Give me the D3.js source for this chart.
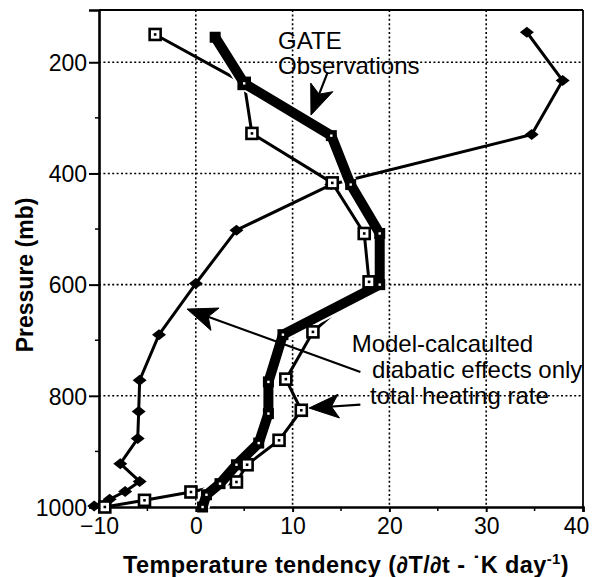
<!DOCTYPE html>
<html>
<head>
<meta charset="utf-8">
<script src="https://cdn.jsdelivr.net/npm/d3@7"></script>
<style>
  body { margin: 0; background: #fff; }
  text { font-family: "Liberation Sans", Arial, Helvetica, sans-serif; fill: #000; }
</style>
</head>
<body>
<div id="chart"></div>
<script>
// values: pressure (mb) and temperature tendency (K/day)
var gatePressure = [155, 238, 332, 420, 508, 600, 690, 775, 832, 885, 924, 958, 978, 1000];
var gateTendency = [2.0, 5.0, 14.0, 16.0, 19.0, 19.0, 9.0, 7.5, 7.5, 6.5, 4.2, 2.5, 1.1, 0.7];

var totalPressure = [150, 238, 328, 417, 508, 595, 685, 770, 826, 880, 924, 955, 973, 988, 1000];
var totalTendency = [-4.2, 5.0, 5.8, 14.1, 17.4, 17.9, 12.1, 9.3, 10.9, 8.6, 5.3, 4.2, -0.5, -5.3, -9.4];

var diabPressure = [146, 233, 330, 420, 502, 598, 690, 772, 828, 877, 922, 954, 972, 986, 998];
var diabTendency = [34.2, 37.9, 34.7, 14.0, 4.2, 0.0, -3.8, -5.8, -5.9, -6.0, -7.8, -5.8, -7.3, -8.9, -10.5];

var xTicks = [-10, 0, 10, 20, 30, 40];
var xMinor = [-5, 5, 15, 25, 35];
var yTicks = [200, 400, 600, 800, 1000];
var yMinor = [300, 500, 700, 900];

// annotation texts, placed in data units
var noteText = ["GATE", "Observations", "Model-calcaulted", "diabatic effects only", "total heating rate"];
var noteT = [8.5, 8.5, 16.1, 18.2, 18.0];
var noteP = [176, 221, 721, 768, 815];

// annotation arrows: tail -> tip, in data units
var arrowTail = [[13.6, 219], [17.0, 757], [17.0, 816]];
var arrowTip = [[11.9, 295], [-0.9, 644], [11.7, 822]];

var width = 594, height = 577;
var svg = d3.select("#chart").append("svg")
    .attr("width", width)
    .attr("height", height);

var x = d3.scaleLinear().domain([-10, 40]).range([99, 583]);
var y = d3.scaleLinear().domain([106, 1000]).range([10, 507]);

// dotted grid
svg.append("g").selectAll("line")
    .data(xTicks.slice(1, -1))
  .enter().append("line")
    .attr("x1", function(d) { return x(d); })
    .attr("x2", function(d) { return x(d); })
    .attr("y1", y(106)).attr("y2", y(1000))
    .attr("stroke", "#000").attr("stroke-width", 1.6)
    .attr("stroke-dasharray", "2,2.4");
svg.append("g").selectAll("line")
    .data(yTicks.slice(0, -1))
  .enter().append("line")
    .attr("y1", function(d) { return y(d); })
    .attr("y2", function(d) { return y(d); })
    .attr("x1", x(-10)).attr("x2", x(40))
    .attr("stroke", "#000").attr("stroke-width", 1.6)
    .attr("stroke-dasharray", "2,2.4");

// frame
svg.append("line").attr("x1", x(-10)).attr("x2", x(40)).attr("y1", y(106)).attr("y2", y(106))
    .attr("stroke", "#000").attr("stroke-width", 2);
svg.append("line").attr("x1", x(40)).attr("x2", x(40)).attr("y1", y(106)).attr("y2", y(1000))
    .attr("stroke", "#000").attr("stroke-width", 1.8);

// axes
var yAxis = svg.append("g")
    .attr("transform", "translate(" + x(-10) + ",0)")
    .call(d3.axisLeft(y).tickValues(yTicks).tickSize(10).tickPadding(2).tickFormat(d3.format("d")));
yAxis.select(".domain").attr("stroke-width", 2.6);
yAxis.selectAll(".tick line").attr("stroke-width", 2);
yAxis.selectAll(".tick text").style("font-size", "23px").attr("dy", "0.36em");
yAxis.append("g").selectAll("line")
    .data(yMinor)
  .enter().append("line")
    .attr("x1", -4).attr("x2", 0)
    .attr("y1", function(d) { return y(d); })
    .attr("y2", function(d) { return y(d); })
    .attr("stroke", "#000").attr("stroke-width", 1.5);

var xAxis = svg.append("g")
    .attr("transform", "translate(0," + y(1000) + ")")
    .call(d3.axisBottom(x).tickValues(xTicks).tickSize(5).tickPadding(6).tickFormat(d3.format("d")));
xAxis.select(".domain").attr("stroke-width", 2.6);
xAxis.selectAll(".tick line").attr("stroke-width", 2);
xAxis.selectAll(".tick text").style("font-size", "23px")
    .attr("dx", function(d) { return d === 40 ? -7 : 0; });
xAxis.append("g").selectAll("line")
    .data(xMinor)
  .enter().append("line")
    .attr("x1", function(d) { return x(d); })
    .attr("x2", function(d) { return x(d); })
    .attr("y1", 0).attr("y2", 4)
    .attr("stroke", "#000").attr("stroke-width", 1.5);

// axis titles
svg.append("text")
    .attr("transform", "translate(33,275) rotate(-90)")
    .attr("text-anchor", "middle")
    .style("font-size", "23px").style("font-weight", "bold")
    .text("Pressure (mb)");

var xTitle = svg.append("text")
    .attr("x", 346).attr("y", 573)
    .attr("text-anchor", "middle")
    .style("font-size", "23.5px").style("font-weight", "bold")
    .style("letter-spacing", "0.4px");
xTitle.append("tspan").text("Temperature tendency (\u2202T/\u2202t - \u02D9K day");
xTitle.append("tspan").attr("dy", -9).style("font-size", "15px").text("-1");
xTitle.append("tspan").attr("dy", 9).text(")");

var line = d3.line()
    .x(function(d) { return x(d[0]); })
    .y(function(d) { return y(d[1]); });

var diab = diabTendency.map(function(d, i) { return [d, diabPressure[i]]; });
var total = totalTendency.map(function(d, i) { return [d, totalPressure[i]]; });
var gate = gateTendency.map(function(d, i) { return [d, gatePressure[i]]; });

// model diabatic effects only: diamonds
svg.append("path")
    .datum(diab)
    .attr("fill", "none")
    .attr("stroke", "#000")
    .attr("stroke-width", 3)
    .attr("stroke-linejoin", "round")
    .attr("d", line);
svg.append("g").selectAll("path")
    .data(diab)
  .enter().append("path")
    .attr("transform", function(d) { return "translate(" + x(d[0]) + "," + y(d[1]) + ")"; })
    .attr("d", "M-7,0L0,-5.5L7,0L0,5.5Z")
    .attr("fill", "#000");

// total heating rate: open squares
svg.append("path")
    .datum(total)
    .attr("fill", "none")
    .attr("stroke", "#000")
    .attr("stroke-width", 3)
    .attr("stroke-linejoin", "round")
    .attr("d", line);

// GATE observations: heavy line
svg.append("path")
    .datum(gate)
    .attr("fill", "none")
    .attr("stroke", "#fff")
    .attr("stroke-width", 14)
    .attr("stroke-linejoin", "round")
    .attr("d", line);
svg.append("path")
    .datum(gate)
    .attr("fill", "none")
    .attr("stroke", "#000")
    .attr("stroke-width", 10)
    .attr("stroke-linejoin", "round")
    .attr("d", line);

var sq = svg.append("g").selectAll("g")
    .data(total)
  .enter().append("g")
    .attr("transform", function(d) { return "translate(" + x(d[0]) + "," + y(d[1]) + ")"; });
sq.append("rect")
    .attr("x", -5.5).attr("y", -5.5).attr("width", 11).attr("height", 11)
    .attr("fill", "#fff").attr("stroke", "#000").attr("stroke-width", 2.6);
sq.append("rect")
    .attr("x", -1.3).attr("y", -1.3).attr("width", 2.6).attr("height", 2.6)
    .attr("fill", "#000");

var gm = svg.append("g").selectAll("g")
    .data(gate)
  .enter().append("g")
    .attr("transform", function(d) { return "translate(" + x(d[0]) + "," + y(d[1]) + ")"; });
gm.append("rect")
    .attr("x", -5.5).attr("y", -5.5).attr("width", 11).attr("height", 11)
    .attr("fill", "#000");
gm.append("rect")
    .attr("x", -1.2).attr("y", -1.2).attr("width", 2.4).attr("height", 2.4)
    .attr("fill", function(d, i) { return i === 0 ? "#000" : "#fff"; });

// annotations
svg.append("g").selectAll("text")
    .data(noteText)
  .enter().append("text")
    .attr("x", function(d, i) { return x(noteT[i]); })
    .attr("y", function(d, i) { return y(noteP[i]); })
    .style("font-size", "24px")
    .text(function(d) { return d; });

function arrowHead(tx, ty, ang, len, spread) {
  var a1 = ang + Math.PI - spread, a2 = ang + Math.PI + spread;
  var nx = tx + Math.cos(ang + Math.PI) * len * 0.7, ny = ty + Math.sin(ang + Math.PI) * len * 0.7;
  return "M" + tx + "," + ty +
    "L" + (tx + Math.cos(a1) * len) + "," + (ty + Math.sin(a1) * len) +
    "L" + nx + "," + ny +
    "L" + (tx + Math.cos(a2) * len) + "," + (ty + Math.sin(a2) * len) + "Z";
}

arrowTail.forEach(function(t, i) {
  var x1 = x(t[0]), y1 = y(t[1]);
  var x2 = x(arrowTip[i][0]), y2 = y(arrowTip[i][1]);
  var ang = Math.atan2(y2 - y1, x2 - x1);
  svg.append("line")
    .attr("x1", x1).attr("y1", y1)
    .attr("x2", x2 - Math.cos(ang) * 12).attr("y2", y2 - Math.sin(ang) * 12)
    .attr("stroke", "#000").attr("stroke-width", 2.2);
  svg.append("path")
    .attr("d", arrowHead(x2, y2, ang, 32, 0.38))
    .attr("fill", "#000")
    .attr("stroke", "#000").attr("stroke-width", 1)
    .attr("stroke-linejoin", "round");
});
</script>
</body>
</html>
